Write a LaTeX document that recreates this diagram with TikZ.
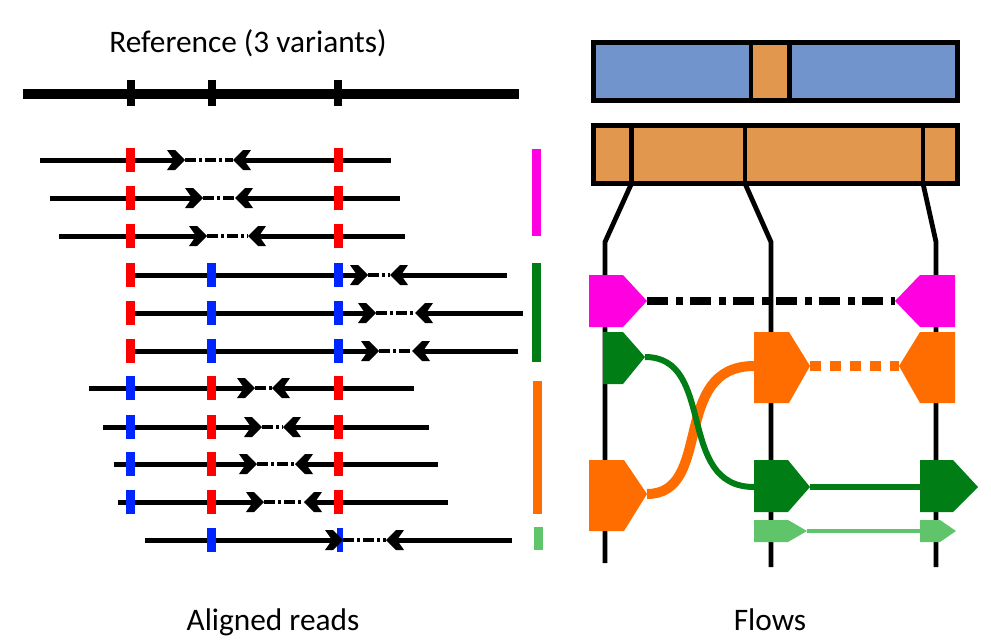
\documentclass[tikz,border=0pt]{standalone}
\usepackage{fontspec}
\setmainfont{Carlito}
\definecolor{refblue}{HTML}{7294CC}
\definecolor{hapor}{HTML}{E1974E}
\definecolor{varred}{HTML}{FF0000}
\definecolor{varblue}{HTML}{0026FF}
\definecolor{flowmag}{HTML}{FF00E1}
\definecolor{flowgreen}{HTML}{007D14}
\definecolor{floworange}{HTML}{FF6D00}
\definecolor{flowlight}{HTML}{60C46B}
\tikzset{
  fwdhead/.pic={\fill (-18,-10) -- (-10,-10) -- (0,0) -- (-10,10) -- (-18,10) -- (-11,0) -- cycle;},
  revhead/.pic={\fill (18,-10) -- (10,-10) -- (0,0) -- (10,10) -- (18,10) -- (11,0) -- cycle;}
}
\begin{document}
\begin{tikzpicture}[x=0.75pt,y=0.75pt,yscale=-1,xscale=1,
    readline/.style={line width=3.75pt},
    readgap/.style={line width=2.6pt,dash pattern=on 8pt off 2.5pt on 2pt off 2.5pt},
    barline/.style={line width=3.6pt},
    labeltext/.style={inner sep=0pt,anchor=base,font=\fontsize{23.5}{28}\selectfont}]
    \useasboundingbox (0,0) rectangle (991,642);

    % reference
    \draw [line width=7.5pt]    (23,94) -- (519,94) ;
    \foreach \x in {131,212,338}
      \draw [line width=6pt]    (\x,80) -- (\x,106) ;
    \draw (248,53) node (reftitle) [labeltext] {Reference (3 variants)};

    % aligned reads
    \foreach \y/\s/\f/\r/\e in {160/40/185/233/391, 198/50/203/235/400, 236/59/207/248/405,
        275/131/368/390/507, 313/131/376/415/523, 351/131/379/412/518,
        388/89/255/272/414, 427/103/262/283/429, 464/114/257/295/438, 502/118/264/304/448,
        540/145/343/386/512} {
      \draw [readline]    (\s,\y) -- (\f-8,\y) ;
      \draw [readgap]    (\f,\y) -- (\r,\y) ;
      \draw [readline]    (\e,\y) -- (\r+8,\y) ;
    }
    \foreach \y in {160,198,236} {
      \fill [varred]    (126,\y-12) rectangle (135,\y+12) ;
      \fill [varred]    (334,\y-12) rectangle (343,\y+12) ;
    }
    \foreach \y in {275,313,351} {
      \fill [varred]    (126,\y-12) rectangle (135,\y+12) ;
      \fill [varblue]    (207,\y-12) rectangle (216,\y+12) ;
      \fill [varblue]    (334,\y-12) rectangle (343,\y+12) ;
    }
    \foreach \y in {388,427,464,502} {
      \fill [varblue]    (126,\y-12) rectangle (135,\y+12) ;
      \fill [varred]    (207,\y-12) rectangle (216,\y+12) ;
      \fill [varred]    (334,\y-12) rectangle (343,\y+12) ;
    }
    \fill [varblue]    (207,528) rectangle (216,552) ;
    \fill [varblue]    (337,528) rectangle (343,552) ;
    \foreach \y/\f/\r in {160/185/233, 198/203/235, 236/207/248, 275/368/390, 313/376/415,
        351/379/412, 388/255/272, 427/262/283, 464/257/295, 502/264/304, 540/343/386} {
      \pic at (\f,\y) {fwdhead};
      \pic at (\r,\y) {revhead};
    }
    \fill [flowmag]    (532,149) rectangle (541,236) ;
    \fill [flowgreen]    (532,263) rectangle (541,362) ;
    \fill [floworange]    (533,381) rectangle (542,514) ;
    \fill [flowlight]    (534,527) rectangle (543,550) ;
    \draw (273,630) node (readstitle) [labeltext] {Aligned reads};

    % haplotypes
    \draw [barline,fill=refblue]    (593.5,42.5) rectangle (957.5,100.5) ;
    \draw [barline,fill=hapor]    (751,42.5) rectangle (789.5,100.5) ;
    \draw [barline,fill=hapor]    (593.5,125.5) rectangle (957.5,183.5) ;
    \foreach \x in {631.5,745,923}
      \draw [barline]    (\x,125.5) -- (\x,183.5) ;
    \draw [barline]    (631.5,183.5) -- (605,242) -- (605,563) ;
    \draw [barline]    (745,183.5) -- (771,242) -- (771,567) ;
    \draw [barline]    (923,183.5) -- (936,242) -- (936,567) ;

    % flows
    \coordinate (magA) at (647,301);
    \coordinate (magB) at (895,301);
    \coordinate (grnA) at (645,357);
    \coordinate (grnB) at (754,487);
    \coordinate (grnC) at (810,487);
    \coordinate (grnD) at (920,487);
    \coordinate (orA) at (647,494);
    \coordinate (orB) at (754,366);
    \coordinate (orC) at (810,366);
    \coordinate (orD) at (899,366);
    \coordinate (ltA) at (807,531);
    \coordinate (ltB) at (920,531);
    \draw [line width=6pt,dash pattern=on 15.75pt off 6pt on 5.25pt off 5.25pt]    (magA) -- (magB) ;
    \draw [floworange,line width=7.5pt,dash pattern=on 8.25pt off 6.75pt]    (orC) -- (orD) ;
    \draw [floworange,line width=7.5pt]    (orA) .. controls (714,494) and (670,366) .. (orB) ;
    \draw [flowgreen,line width=4.5pt]    (grnA) .. controls (717,357) and (675,487) .. (grnB) ;
    \draw [flowgreen,line width=4.5pt]    (grnC) -- (grnD) ;
    \draw [flowlight,line width=3.2pt]    (ltA) -- (ltB) ;
    \fill [flowmag]    (589,275) -- (623,275) -- (magA) -- (623,327) -- (589,327) -- cycle ;
    \fill [flowmag]    (955,275) -- (920,275) -- (magB) -- (920,327) -- (955,327) -- cycle ;
    \fill [flowgreen]    (603,332) -- (623,332) -- (grnA) -- (623,384) -- (603,384) -- cycle ;
    \fill [flowgreen]    (754,460) -- (788,460) -- (grnC) -- (788,512) -- (754,512) -- cycle ;
    \fill [flowgreen]    (920,460) -- (953,460) -- (978,487) -- (953,512) -- (920,512) -- cycle ;
    \fill [floworange]    (589,460) -- (624,460) -- (orA) -- (624,531) -- (589,531) -- cycle ;
    \fill [floworange]    (754,332) -- (789,332) -- (orC) -- (789,403) -- (754,403) -- cycle ;
    \fill [floworange]    (955,332) -- (920,332) -- (orD) -- (920,403) -- (955,403) -- cycle ;
    \fill [flowlight]    (754,520) -- (788,520) -- (ltA) -- (788,542) -- (754,542) -- cycle ;
    \fill [flowlight]    (920,520) -- (940,520) -- (956,531) -- (940,542) -- (920,542) -- cycle ;
    \draw (770,630) node (flowstitle) [labeltext] {Flows};
  \end{tikzpicture}
\end{document}
